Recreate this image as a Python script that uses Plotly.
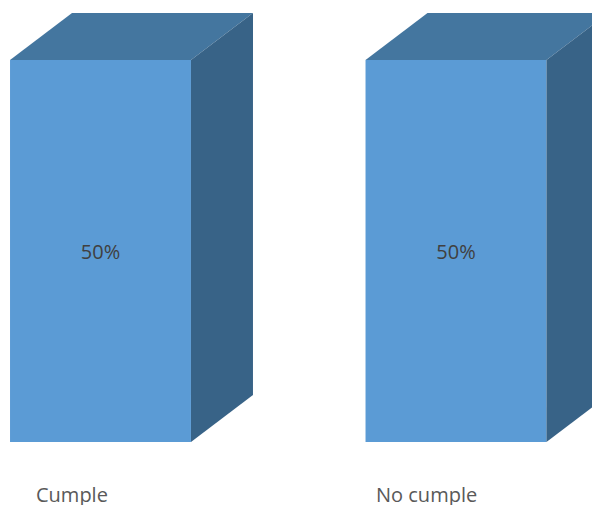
import plotly.graph_objects as go

categories = ["Cumple", "No cumple"]
values = [0.5, 0.5]
value_labels = ["50%", "50%"]

FRONT = "#5B9BD5"
TOP = "#44769F"
SIDE = "#386387"

bar_w = 0.509      # front-face width (category units)
dx = 0.1744        # depth offset in x (category units)
dy = 0.0615        # depth offset in y (value units)

xs = list(range(len(categories)))
fig = go.Figure()

for i, v in zip(xs, values):
    x0, x1 = i - bar_w / 2, i + bar_w / 2
    # top face
    fig.add_trace(go.Scatter(
        x=[x0, x0 + dx, x1 + dx, x1, x0],
        y=[v, v + dy, v + dy, v, v],
        fill="toself", fillcolor=TOP, mode="lines",
        line=dict(width=0, color=TOP), hoverinfo="skip", showlegend=False))
    # side face
    fig.add_trace(go.Scatter(
        x=[x1, x1 + dx, x1 + dx, x1, x1],
        y=[v, v + dy, dy, 0, v],
        fill="toself", fillcolor=SIDE, mode="lines",
        line=dict(width=0, color=SIDE), hoverinfo="skip", showlegend=False))

fig.add_trace(go.Bar(
    x=xs, y=values, width=bar_w,
    marker=dict(color=FRONT, line=dict(width=0)),
    text=value_labels, textposition="inside", insidetextanchor="middle",
    textfont=dict(family="Open Sans", size=20, color="#404040"),
    hoverinfo="skip", showlegend=False))

for i, c in zip(xs, categories):
    fig.add_annotation(x=i, y=-0.069, text=c, showarrow=False, xshift=-29,
                       font=dict(family="Open Sans", size=20, color="#595959"),
                       xanchor="center", yanchor="middle")

fig.update_layout(
    width=592, height=497,
    margin=dict(l=0, r=0, t=0, b=0),
    paper_bgcolor="white", plot_bgcolor="white",
    xaxis=dict(range=[-0.2602, 1.4051], visible=False, fixedrange=True),
    yaxis=dict(range=[-0.0825, 0.5681], visible=False, fixedrange=True),
)

fig.write_html("out.html")
